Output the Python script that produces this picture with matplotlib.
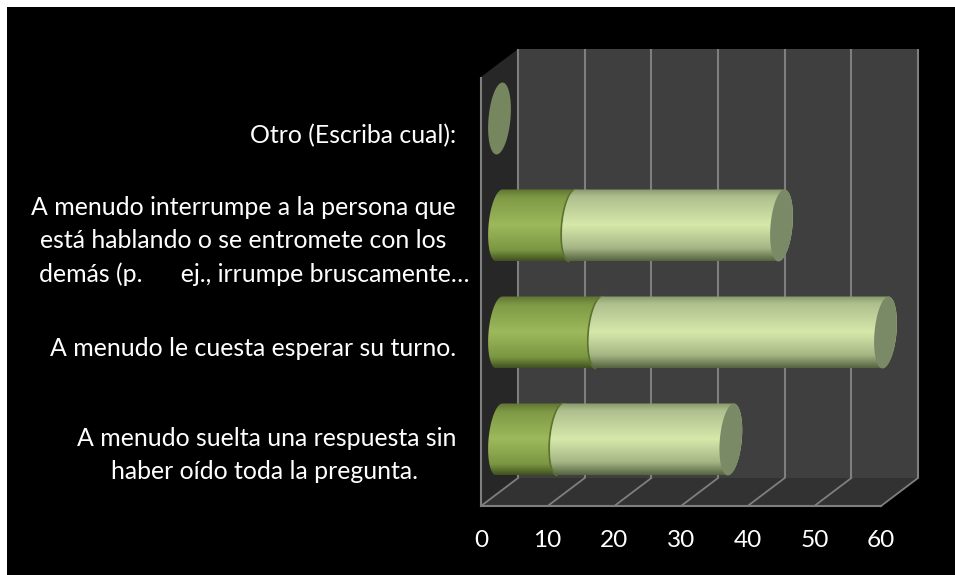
import numpy as np
import matplotlib
matplotlib.use('Agg')
import matplotlib.pyplot as plt
from matplotlib.colors import LinearSegmentedColormap
from matplotlib.patches import Polygon

plt.rcParams['font.family'] = ['Lato', 'DejaVu Sans']

# bottom to top
categories = [
    ['A menudo suelta una respuesta sin', 'haber oído toda la pregunta.'],
    ['A menudo le cuesta esperar su turno.'],
    ['A menudo interrumpe a la persona que', 'está hablando o se entromete con los', 'demás (p.      ej., irrumpe bruscamente…'],
    ['Otro (Escriba cual):'],
]
serie_1 = [9.3, 15.1, 11.1, 0]
serie_2 = [25.4, 42.8, 31.2, 0]
x_ticks = [0, 10, 20, 30, 40, 50, 60]

# right edge of every text line, in pixels
label_right = [[456, 418], [456], [456, 446, 469], [456]]

W, H = 955, 575
PX = 400 / 60      # pixels per value unit
PY = 107           # pixels per category
X0, Y0 = 481, 453.5  # pixel of value 0, category 0 on the front plane
DX, DY = 37, 28    # depth of the 3d box


def xd(px):
    return (px - X0) / PX


def yd(py):
    return (Y0 - py) / PY


fig = plt.figure(figsize=(W / 100, H / 100), dpi=100, facecolor='white')
ax = fig.add_axes([7 / W, 0, (W - 7) / W, (H - 7) / H], facecolor='black')
for s in ax.spines.values():
    s.set_visible(False)

# box of the chart, offsets in value / category units
ddx, ddy = DX / PX, DY / PY
top = yd(77)
bot = yd(506)
xmax = x_ticks[-1]
ax.add_patch(Polygon([(ddx, top + ddy), (xmax + ddx, top + ddy), (xmax + ddx, bot + ddy), (ddx, bot + ddy)],
                     fc='#3f3f3f', ec='none', zorder=1))
ax.add_patch(Polygon([(0, bot), (xmax, bot), (xmax + ddx, bot + ddy), (ddx, bot + ddy)],
                     fc='#323232', ec='none', zorder=1))
ax.add_patch(Polygon([(0, top), (ddx, top + ddy), (ddx, bot + ddy), (0, bot)],
                     fc='#272727', ec='none', zorder=1))

grid = '#7f7f7f'
for t in x_ticks:
    ax.plot([t + ddx, t + ddx], [top + ddy, bot + ddy], color=grid, lw=1.5, zorder=2, solid_capstyle='butt')
    ax.plot([t, t + ddx], [bot, bot + ddy], color=grid, lw=1.3, zorder=2)
ax.plot([0, 0], [top, bot], color=grid, lw=1.5, zorder=2, solid_capstyle='butt')
ax.plot([0, xmax], [bot, bot], color=grid, lw=1.5, zorder=2)

# cylinders
dark_cmap = LinearSegmentedColormap.from_list('d', [(0, '#5f7433'), (0.12, '#7f9a45'), (0.5, '#9db95c'),
                                                    (0.85, '#7b9641'), (1, '#3f5020')])
light_cmap = LinearSegmentedColormap.from_list('l', [(0, '#87986a'), (0.1, '#aebf8e'), (0.5, '#d6e9aa'),
                                                     (0.82, '#a5b685'), (1, '#55633f')])
grad = np.linspace(0, 1, 256).reshape(-1, 1)
RX, RY, SH = 11 / PX, 36 / PY, 3 / PX
off_x, off_y = 18.5 / PX, 14 / PY


def ellipse_pts(cx, cy, a, b):
    t = np.radians(np.linspace(a, b, 60))
    return np.column_stack([cx + RX * np.cos(t) + SH * np.sin(t), cy + RY * np.sin(t)])


def body(start, end, cy, cmap, z):
    cx0, cx1 = start + off_x, end + off_x
    pts = np.vstack([ellipse_pts(cx0, cy, 90, 270), ellipse_pts(cx1, cy, 270, 450)])
    poly = Polygon(pts, closed=True, fc='none', ec='none', zorder=z)
    ax.add_patch(poly)
    im = ax.imshow(grad, cmap=cmap, aspect='auto', zorder=z, interpolation='bilinear',
                   extent=(cx0 - 2 * RX, cx1 + 2 * RX, cy - RY, cy + RY))
    im.set_clip_path(poly)


for i in range(len(categories)):
    v1, v2 = serie_1[i], serie_2[i]
    cy = i + off_y
    if v1 + v2 == 0:
        ax.add_patch(Polygon(ellipse_pts(off_x, cy, 0, 360), fc='#76875f', ec='none', zorder=3))
        continue
    z = 3 + i
    body(0, v1, cy, dark_cmap, z)
    # dark rim where the second series starts
    ax.add_patch(Polygon(ellipse_pts(v1 + off_x - 1 / PX, cy, 90, 270), closed=False, fc='none',
                         ec='#5d7232', lw=1.2, zorder=z + 0.1))
    body(v1, v1 + v2, cy, light_cmap, z + 0.2)
    ax.add_patch(Polygon(ellipse_pts(v1 + v2 + off_x, cy, 0, 360), fc='#7a8a66', ec='none', zorder=z + 0.3))

ax.set_xlim(xd(7), xd(W))
ax.set_ylim(yd(H), yd(7))

# value axis
ax.spines['bottom'].set_position(('data', bot))
ax.set_xticks(x_ticks)
ax.set_xticklabels([str(t) for t in x_ticks], color='white', fontsize=17.6)
ax.tick_params(axis='x', length=0, pad=17)
ax.set_yticks([])

# category labels, one text per line
LINE = 33.5
for i, lines in enumerate(categories):
    n = len(lines)
    for j, line in enumerate(lines):
        py = Y0 - i * PY + (j - (n - 1) / 2) * LINE + 1.5
        if n == 1 and i == 3:
            py += 2
        ax.text(xd(label_right[i][j]), yd(py), line, color='white', fontsize=17.9,
                ha='right', va='center', zorder=10)

fig.savefig('out.png', dpi=100, facecolor=fig.get_facecolor())
